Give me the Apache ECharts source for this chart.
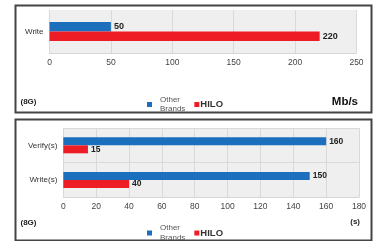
<!DOCTYPE html>
<html>
<head>
<meta charset="utf-8">
<script src="https://cdn.jsdelivr.net/npm/echarts@6/dist/echarts.min.js"></script>
<style>
  html, body { margin: 0; padding: 0; background: #ffffff; }
  #chart { width: 374px; height: 241px; }
</style>
</head>
<body>
<div id="chart"></div>
<script>
// top panel: write speed (Mb/s)
const speedCategories = ['Write']
const speedOther = [50]
const speedHilo = [220]
const speedTicks = { min: 0, max: 250, interval: 50 }

// bottom panel: time (s)
const timeCategories = ['Write(s)', 'Verify(s)']
const timeOther = [150, 160]
const timeHilo = [40, 15]
const timeTicks = { min: 0, max: 180, interval: 20 }

const OTHER = 'Other\nBrands'
const HILO = 'HILO'
const blue = '#1c6fbd'
const red = '#ee1d25'
const font = 'Liberation Sans, Arial, sans-serif'

const chart = echarts.init(document.getElementById('chart'), null, { renderer: 'canvas' })

const gridStyle = {
  show: true,
  backgroundColor: '#efefef',
  borderWidth: 0
}

const valueAxis = (gridIndex, ticks) => ({
  type: 'value',
  gridIndex: gridIndex,
  min: ticks.min,
  max: ticks.max,
  interval: ticks.interval,
  axisLine: { show: true, lineStyle: { color: '#d6d6d6', width: 1 } },
  axisTick: { show: false },
  axisLabel: { color: '#444', fontSize: 8.5, fontFamily: font, margin: 5 },
  splitLine: { show: true, lineStyle: { color: '#d9d9d9', width: 1 } }
})

const catAxis = (gridIndex, data) => ({
  type: 'category',
  gridIndex: gridIndex,
  data: data,
  axisLine: { show: false },
  axisTick: { show: false },
  axisLabel: { color: '#333', fontSize: 8, fontFamily: font, margin: 6 },
  splitLine: { show: gridIndex === 1, lineStyle: { color: '#d9d9d9', width: 1 } }
})

const barLabel = {
  show: true,
  position: 'right',
  distance: 3,
  color: '#222',
  fontSize: 9,
  fontWeight: 'bold',
  fontFamily: font
}

const legendFor = (top) => ({
  top: top,
  left: 142,
  itemWidth: 5,
  itemHeight: 5,
  itemGap: 9,
  icon: 'rect',
  selectedMode: false,
  data: [
    { name: OTHER, textStyle: { color: '#555', fontSize: 8, lineHeight: 9.5, fontFamily: font, padding: [0, 0, 0, 3] } },
    { name: HILO, textStyle: { color: '#333', fontSize: 9.5, fontWeight: 'bold', fontFamily: font, padding: [0, 0, 0, -4] } }
  ]
})

const option = {
  backgroundColor: '#ffffff',
  animation: false,
  grid: [
    Object.assign({ left: 49.5, top: 10, width: 307, height: 43 }, gridStyle),
    Object.assign({ left: 63.3, top: 128, width: 295.7, height: 69.3 }, gridStyle)
  ],
  xAxis: [valueAxis(0, speedTicks), valueAxis(1, timeTicks)],
  yAxis: [catAxis(0, speedCategories), catAxis(1, timeCategories)],
  legend: [legendFor(90), legendFor(218.5)],
  series: [
    { name: OTHER, type: 'bar', xAxisIndex: 0, yAxisIndex: 0, data: speedOther, barWidth: 9.6, barGap: 0, itemStyle: { color: blue }, label: barLabel },
    { name: HILO, type: 'bar', xAxisIndex: 0, yAxisIndex: 0, data: speedHilo, barWidth: 9.6, barGap: 0, itemStyle: { color: red }, label: barLabel },
    { name: OTHER, type: 'bar', xAxisIndex: 1, yAxisIndex: 1, data: timeOther, barWidth: 8, barGap: 0, itemStyle: { color: blue }, label: Object.assign({}, barLabel, { fontSize: 8.5 }) },
    { name: HILO, type: 'bar', xAxisIndex: 1, yAxisIndex: 1, data: timeHilo, barWidth: 8, barGap: 0, itemStyle: { color: red }, label: Object.assign({}, barLabel, { fontSize: 8.5 }) }
  ],
  graphic: [
    // panel frames
    { type: 'rect', shape: { x: 15.5, y: 5.5, width: 356, height: 107 }, style: { fill: null, stroke: '#444', lineWidth: 2 }, z: -1 },
    { type: 'rect', shape: { x: 15.5, y: 119.5, width: 356, height: 121 }, style: { fill: null, stroke: '#444', lineWidth: 2 }, z: -1 },
    { type: 'text', left: 20.5, top: 98, style: { text: '(8G)', fill: '#222', font: 'bold 8px ' + font } },
    { type: 'text', left: 20.5, top: 219, style: { text: '(8G)', fill: '#222', font: 'bold 8px ' + font } },
    { type: 'text', right: 16, top: 96, style: { text: 'Mb/s', fill: '#111', font: 'bold 11.5px ' + font } },
    { type: 'text', right: 14, top: 217.5, style: { text: '(s)', fill: '#222', font: 'bold 8px ' + font } }
  ]
}

chart.setOption(option)
</script>
</body>
</html>
